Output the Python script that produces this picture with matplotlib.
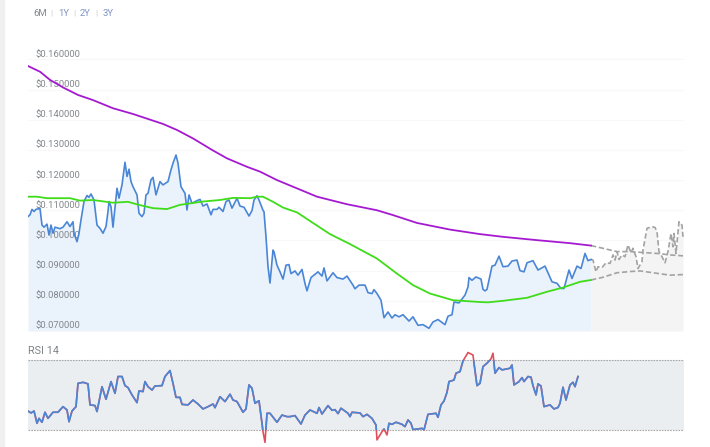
import matplotlib
matplotlib.use('Agg')
import matplotlib.pyplot as plt
from matplotlib.patches import Rectangle

plt.rcParams['font.family'] = ['Roboto', 'DejaVu Sans']
plt.rcParams['lines.solid_joinstyle'] = 'round'
plt.rcParams['lines.dash_joinstyle'] = 'round'

# price in thousandths of a dollar, x is days since the start of the window
price_days = [0, 2, 4, 6, 8, 12, 14, 16, 19, 21, 23, 25, 27, 32, 35, 39, 42, 45, 46, 49, 51, 53, 56, 59, 61, 63, 66,
              69, 72, 75, 78, 80, 81, 83, 85, 89, 91, 94, 97, 99, 101, 103, 105, 109, 111, 114, 116, 118, 120, 123,
              125, 128, 132, 135, 140, 143, 145, 148, 150, 153, 157, 159, 161, 164, 169, 172, 175, 179, 183, 185,
              189, 191, 195, 198, 201, 204, 209, 212, 216, 221, 224,
              226, 229, 231, 235, 236, 238, 240, 242, 245, 246, 249, 252, 255, 258, 261, 263, 267, 270, 274, 277,
              279, 283, 287, 290, 294, 296, 299, 305, 309, 315, 319, 325, 327, 331, 337, 340, 344, 346, 349, 353,
              356, 360, 364, 367, 371, 375, 381, 385, 390, 395, 401, 405, 410, 417, 420, 424, 426, 431, 437, 440,
              441, 444, 448, 453, 455, 457, 459, 464, 467, 471, 475, 480, 484, 489, 492, 496, 499, 505, 510, 517,
              524, 529, 533, 536, 541, 544, 549, 553, 557, 560, 563]
price = [107.9, 108.5, 110.3, 109.6, 110.3, 110.6, 105.1, 104.4, 105.4, 101.8, 105.1, 102.4, 104.4, 103.9, 104.4,
         106.2, 104.6, 106.2, 102.4, 99.6, 102.4, 106.8, 112.9, 114.9, 114.3, 115.4, 113.4, 105.1, 104.0, 102.4,
         104.6, 109.6, 112.9, 111.2, 104.4, 117.3, 114.0, 118.4, 125.9, 121.2, 123.6, 119.5, 117.8, 115.1, 109.0,
         107.9, 109.0, 115.1, 115.6, 120.1, 120.9, 115.1, 119.5, 118.4, 119.5, 123.4, 125.6, 128.3, 125.6, 117.8,
         115.6, 110.1, 115.1, 112.3, 113.2, 113.6, 111.4, 112.1, 108.5, 110.3, 110.3, 111.0, 109.6, 112.9, 113.4,
         110.7, 114.0, 111.4, 111.0, 108.1, 109.9,
         113.4, 114.8, 113.4, 110.0, 109.5, 101.2, 91.3, 85.9, 96.8, 96.2, 91.8, 89.6, 87.2, 91.8, 92.0, 89.0, 89.9,
         88.5, 90.4, 85.7, 83.3, 87.7, 88.8, 89.6, 88.2, 90.9, 86.6, 89.3, 87.7, 87.2, 88.2, 85.2, 84.0, 85.2, 85.2,
         82.7, 82.4, 83.7, 82.4, 80.2, 74.4, 76.3, 74.3, 75.4, 74.7, 75.4, 73.3, 74.7, 71.9, 72.1, 70.9, 73.0, 73.8,
         72.1, 74.9, 75.4, 79.6, 79.3, 81.9, 84.6, 87.7, 86.8, 87.9, 87.2, 83.8, 83.3, 83.8, 91.5, 91.8, 94.8, 91.3,
         91.5, 93.2, 93.5, 90.0, 89.6, 92.6, 93.3, 90.2, 91.5, 86.3, 85.8, 84.1, 84.1, 90.2, 87.4, 91.5, 90.7, 95.7,
         93.3, 93.7]

forecast_days = [563, 565, 568, 570, 574, 578, 582, 585, 587, 589, 591, 594, 597, 600, 603, 605, 608, 610, 614, 615,
                 619, 624, 627, 629, 631, 634, 637, 640, 643, 645, 646, 648, 651, 654, 655]
forecast = [93.7, 93.5, 89.6, 91.3, 91.0, 92.6, 92.4, 95.2, 93.5, 96.3, 93.7, 95.2, 94.6, 98.5, 95.9, 97.4, 94.6,
            90.7, 93.0, 96.8, 104.0, 104.6, 104.3, 102.9, 96.3, 94.6, 92.6, 96.3, 102.3, 97.9, 102.3, 95.7, 106.2,
            105.1, 101.2]

sma200_days = [0, 12, 22, 35, 50, 65, 85, 105, 135, 149, 165, 184, 199, 219, 232, 249, 265, 289, 319, 349, 365, 389,
               422, 452, 475, 509, 542, 563]
sma200 = [157.8, 155.9, 153.2, 150.7, 148.2, 146.5, 143.8, 141.9, 138.6, 136.6, 133.8, 130.0, 127.2, 124.4, 122.8,
          120.0, 117.8, 114.5, 112.0, 110.0, 108.4, 105.8, 103.6, 102.1, 101.2, 100.1, 99.1, 98.3]
sma50_days = [0, 9, 19, 42, 52, 65, 85, 100, 112, 125, 139, 152, 175, 192, 205, 222, 229, 235, 245, 255, 269, 285,
              302, 322, 349, 369, 385, 402, 425, 452, 460, 475, 499, 519, 535, 552, 563]
sma50 = [114.5, 114.5, 114.0, 114.0, 113.2, 113.4, 112.5, 112.8, 111.7, 110.7, 110.4, 111.8, 112.9, 113.4, 114.1,
         114.0, 114.5, 114.5, 112.8, 110.9, 109.3, 105.8, 102.1, 98.8, 94.0, 89.0, 85.2, 82.4, 80.2, 79.6, 79.5,
         80.0, 81.0, 83.0, 84.4, 86.3, 86.9]

upper_days = [563, 575, 589, 602, 615, 629, 642, 655]
upper = [98.3, 97.4, 96.3, 96.3, 96.0, 95.7, 95.2, 94.9]
lower_days = [563, 575, 589, 602, 612, 625, 642, 655]
lower = [86.9, 87.8, 89.3, 89.7, 89.9, 89.3, 88.5, 88.7]

rsi_days = [0, 3, 6, 9, 11, 14, 17, 20, 25, 30, 35, 39, 41, 44, 48, 50, 55, 60, 62, 67, 69, 74, 78, 83, 87, 90, 94,
            97, 100, 104, 109, 111, 115, 117, 120, 124, 127, 134, 137, 142, 145, 148, 152, 154, 160, 165, 170, 175,
            180, 185, 187, 192, 197, 202, 205, 209, 215, 218, 221, 224, 227, 231, 234, 235, 237, 239, 242, 249, 254,
            259, 262, 267, 273, 277, 282, 289, 291, 294, 300, 304, 307, 310, 313, 320, 322, 324, 332, 335, 339, 344,
            348, 349, 354, 356, 359, 361, 364, 368, 374, 377, 380, 383, 385, 394, 396, 400, 408, 410, 413, 416, 419,
            421, 426, 428, 432, 435, 440, 445, 446, 449, 452, 455, 459, 463, 465, 467, 471, 474, 482, 484, 486, 491,
            494, 496, 500, 503, 505, 508, 510, 513, 516, 522, 526, 530, 532, 535, 538, 542, 545, 547, 550]
rsi = [41.0, 39.9, 41.0, 34.0, 36.8, 34.6, 40.3, 36.8, 40.3, 40.3, 43.5, 41.6, 34.9, 41.0, 43.5, 56.8, 57.4, 56.5,
       44.5, 44.1, 40.7, 54.9, 47.7, 57.8, 51.1, 60.7, 60.7, 55.5, 54.4, 50.2, 45.8, 52.5, 52.1, 57.8, 54.9, 53.0,
       55.3, 55.5, 60.7, 64.1, 56.8, 48.8, 48.8, 44.8, 44.5, 47.3, 45.0, 42.2, 43.5, 45.0, 42.9, 49.2, 46.4, 50.6,
       47.3, 46.4, 40.3, 42.2, 55.9, 54.0, 45.4, 46.9, 34.0, 29.2, 23.1, 39.7, 39.7, 34.6, 38.7, 37.8, 37.8, 38.4,
       33.6, 38.7, 41.6, 39.7, 43.0, 39.3, 44.1, 41.4, 41.8, 39.5, 42.6, 39.7, 37.8, 40.3, 39.9, 37.8, 39.1, 36.8,
       33.0, 24.5, 29.2, 30.7, 27.3, 34.0, 33.4, 34.6, 33.4, 32.1, 35.9, 34.0, 30.4, 31.1, 30.2, 39.1, 39.7, 37.4,
       44.5, 46.7, 51.7, 57.8, 58.7, 62.6, 63.5, 69.6, 74.4, 73.0, 68.3, 55.5, 56.8, 66.4, 68.3, 70.8, 74.0, 62.6,
       65.8, 64.5, 65.4, 67.3, 55.9, 57.8, 60.1, 57.8, 60.7, 60.3, 55.5, 50.2, 56.5, 55.3, 43.5, 44.5, 42.2, 43.0,
       45.4, 54.6, 47.3, 55.9, 57.4, 54.9, 60.7]

price_ticks = [70, 80, 90, 100, 110, 120, 130, 140, 150, 160]
ranges = ['6M', '1Y', '2Y', '3Y']

BLUE = '#4a86d6'

fig = plt.figure(figsize=(7.1, 4.47), dpi=100)


def box(left, top, right, bottom):
    """Axes rectangle from pixel edges of the 710x447 canvas"""
    return [left / 710, 1 - bottom / 447, (right - left) / 710, (bottom - top) / 447]


# grey strip of the page on the left
fig.patches.append(Rectangle((0, 0), 4 / 710, 1, transform=fig.transFigure, color='#f0f0f0', zorder=0))

ax = fig.add_axes(box(28, 50, 684, 331))
ax.set_xlim(0, 656)
ax.set_ylim(70, 163.1)
ax.axis('off')

for tick in price_ticks:
    ax.axhline(tick, color='#f8f8f8', lw=0.8, zorder=1)
ax.fill_between(price_days, price, 70, color='#eaf2fb', lw=0, zorder=2)
ax.fill_between(forecast_days, forecast, 70, color='#f4f4f4', lw=0, zorder=2)

for tick in price_ticks:
    ax.annotate('$0.%06d' % (tick * 1000), (8, tick), xytext=(0, 0.3), textcoords='offset points',
                fontsize=6.8, color='#83888d', va='bottom', zorder=3)

ax.plot(forecast_days, forecast, color='#a3a3a3', lw=1.2, ls=(0, (3.2, 1.6)), zorder=4)
ax.plot(upper_days, upper, color='#a3a3a3', lw=1.2, ls=(0, (3.2, 1.6)), zorder=4)
ax.plot(lower_days, lower, color='#a3a3a3', lw=1.2, ls=(0, (3.2, 1.6)), zorder=4)
ax.plot(price_days, price, color=BLUE, lw=1.2, zorder=5)
ax.plot(sma200_days, sma200, color='#a51ad0', lw=1.3, zorder=6)
ax.plot(sma50_days, sma50, color='#3fdc1a', lw=1.3, zorder=6)

# range buttons above the chart
x_pos = [33, 58, 80, 103]
for i in range(len(ranges)):
    fig.text(x_pos[i] / 710, 1 - 13 / 447, ranges[i], fontsize=6.8, va='center',
             color='#83888d' if i == 0 else '#7d94c4')
for sep in [51.5, 74, 96.5]:
    fig.text(sep / 710, 1 - 13 / 447, '|', fontsize=6, va='center', ha='center', color='#c4c8cc')

ax_rsi = fig.add_axes(box(28, 345, 684, 445))
ax_rsi.set_xlim(0, 656)
ax_rsi.set_ylim(21.6, 78.7)
ax_rsi.axis('off')
ax_rsi.axhspan(30, 70, color='#ebeef1', lw=0, zorder=1)
ax_rsi.axhline(70, color='#a8a8a8', lw=0.8, ls=(0, (1.5, 1)), zorder=2)
ax_rsi.axhline(30, color='#a8a8a8', lw=0.8, ls=(0, (1.5, 1)), zorder=2)

# red outside the 30-70 band, blue inside it
ax_rsi.plot(rsi_days, rsi, color='#e0505c', lw=1.2, zorder=3)
band = Rectangle((0, 30), 656, 40, transform=ax_rsi.transData)
line, = ax_rsi.plot(rsi_days, rsi, color=BLUE, lw=1.2, zorder=4)
line.set_clip_path(band)

fig.text(28 / 710, 1 - 351 / 447, 'RSI 14', fontsize=7.8, va='center', color='#7f8488')

fig.savefig('out.png', dpi=100)
